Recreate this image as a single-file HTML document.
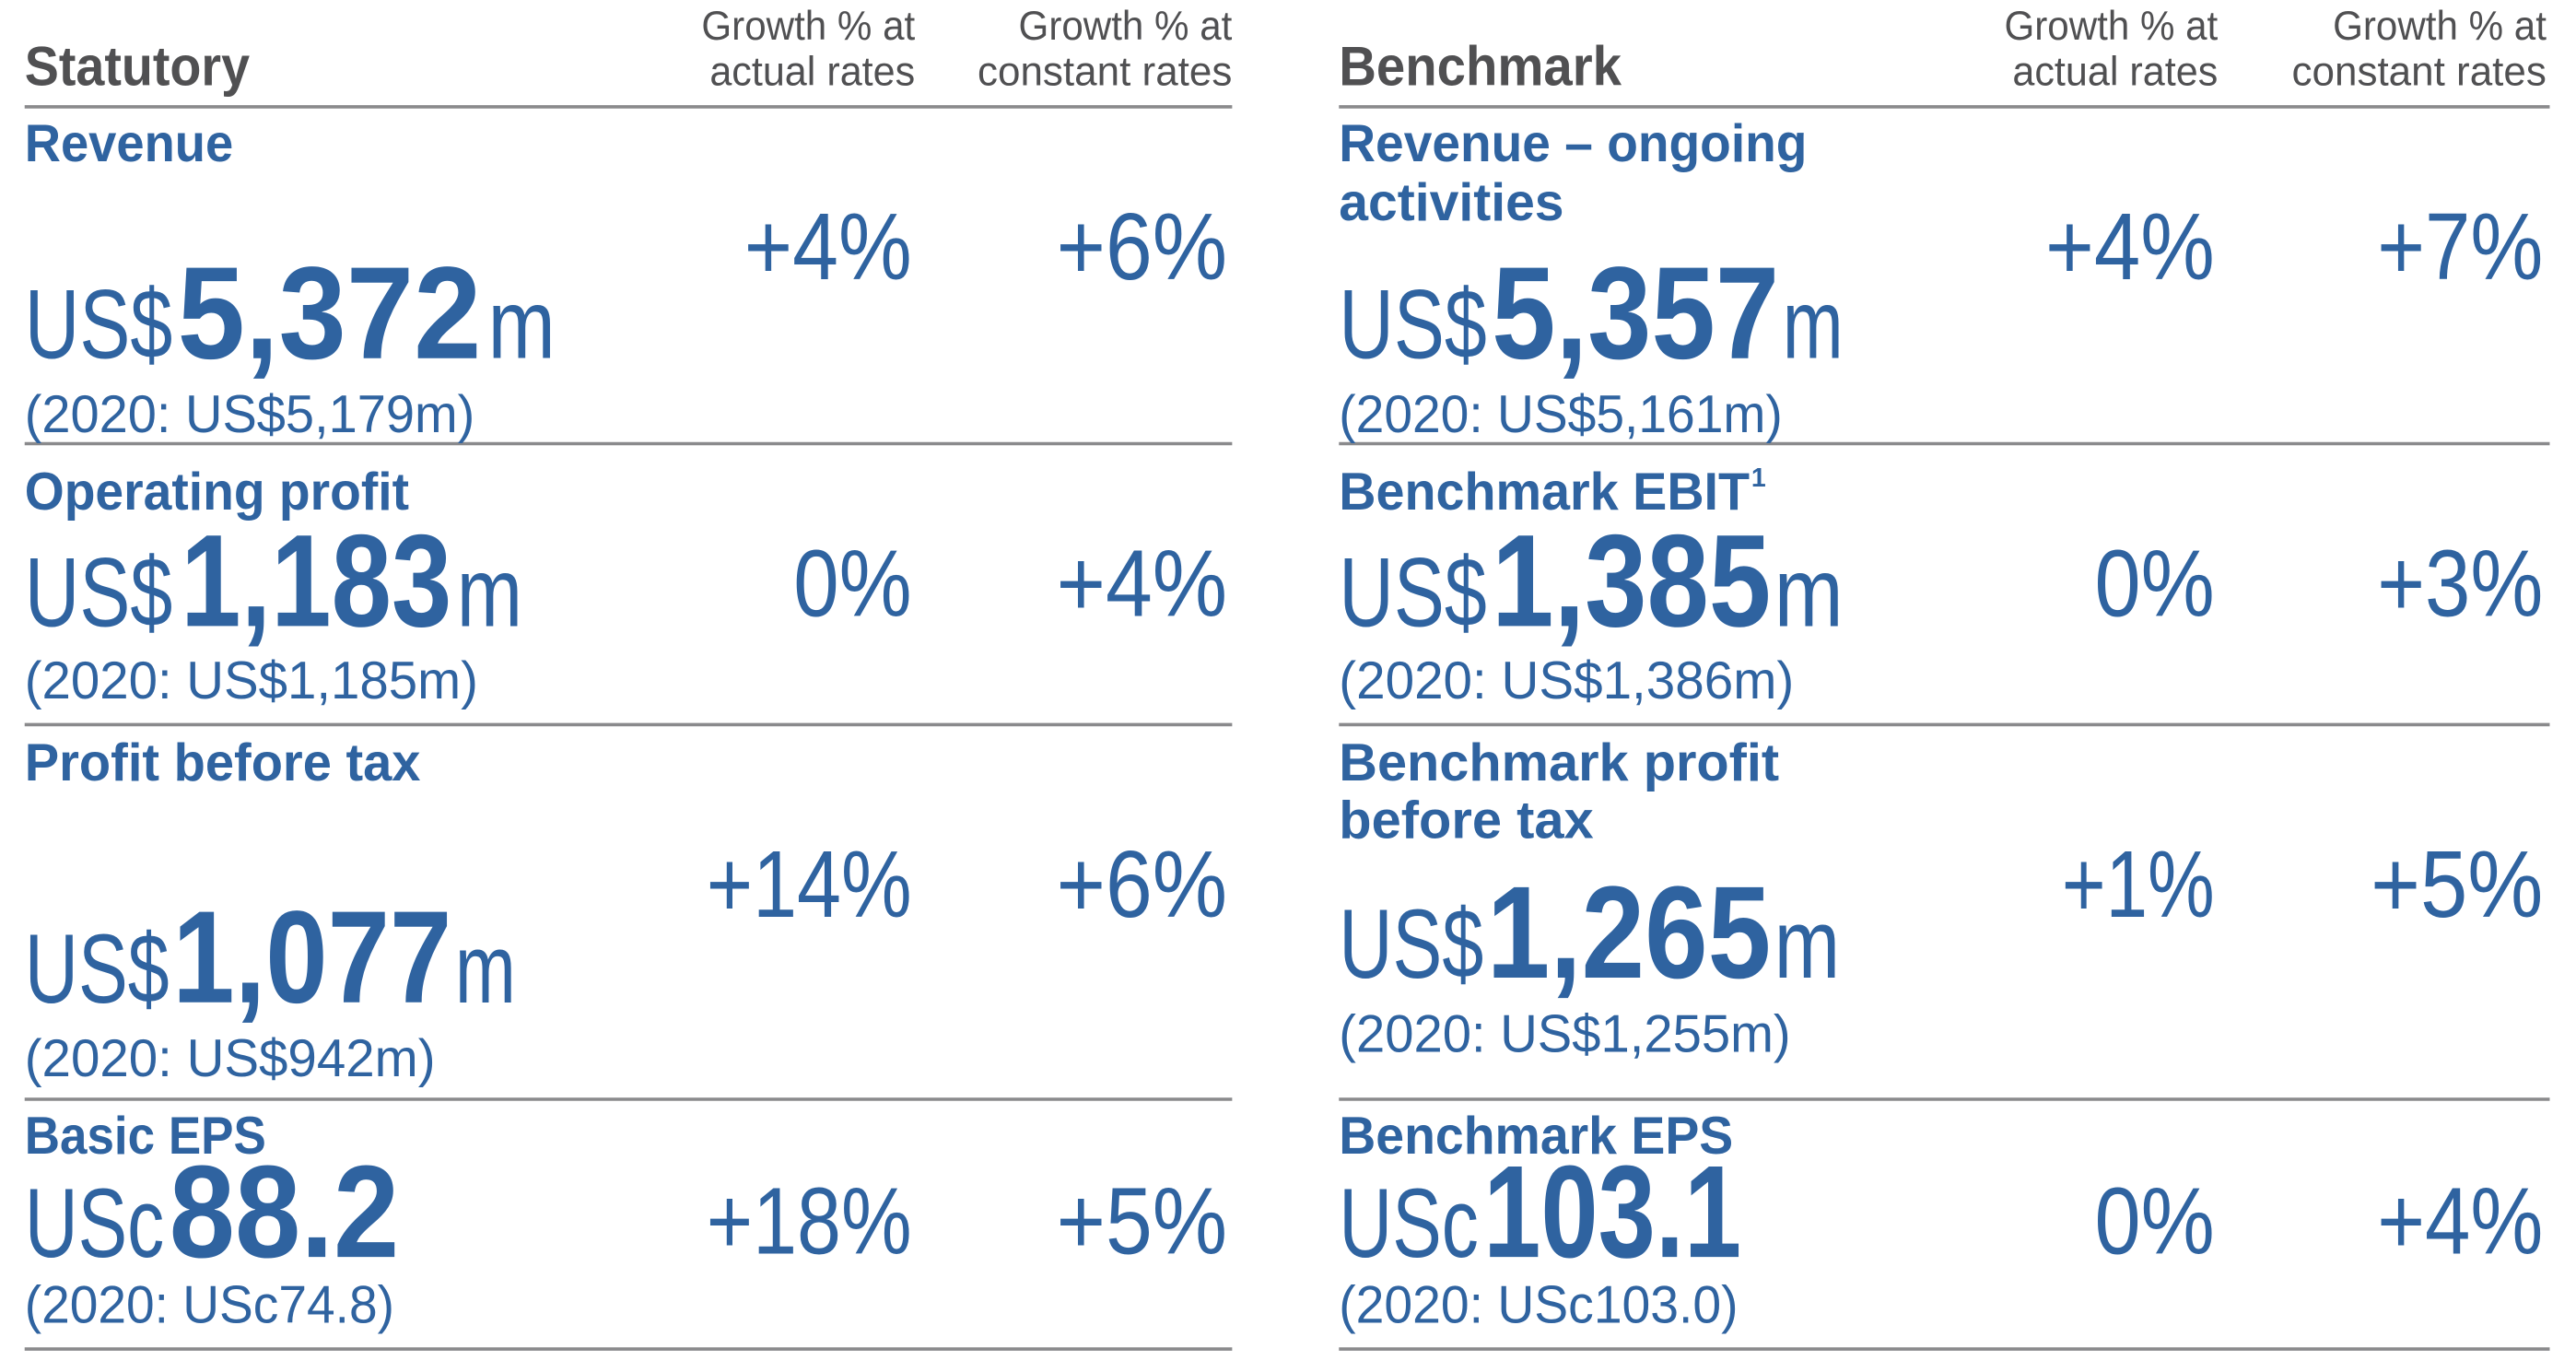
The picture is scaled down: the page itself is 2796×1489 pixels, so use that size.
<!DOCTYPE html>
<html><head><meta charset="utf-8"><style>
html,body{margin:0;padding:0;background:#fff;width:2796px;height:1489px;overflow:hidden}
svg{display:block}
text{font-family:"Liberation Sans Narrow","Liberation Sans",sans-serif;fill:#2f63a0}
.h{fill:#505052;font-weight:bold;font-size:34px}
.g{fill:#505052;font-size:25px}
.l{font-weight:bold;font-size:32px}
.u{font-size:60px}
.b{font-weight:bold;font-size:80px}
.p{font-size:32px}
.r{font-size:58px}
line{stroke:#8a8a8c;stroke-width:2}
</style></head><body>
<svg width="2796" height="1489" viewBox="0 0 1568 835" preserveAspectRatio="none">
<line x1="15" y1="65" x2="750" y2="65"/><line x1="15" y1="270" x2="750" y2="270"/><line x1="15" y1="441" x2="750" y2="441"/><line x1="15" y1="669" x2="750" y2="669"/><line x1="15" y1="821" x2="750" y2="821"/>
<line x1="815" y1="65" x2="1552" y2="65"/><line x1="815" y1="270" x2="1552" y2="270"/><line x1="815" y1="441" x2="1552" y2="441"/><line x1="815" y1="669" x2="1552" y2="669"/><line x1="815" y1="821" x2="1552" y2="821"/>

<text class="h" x="15" y="52" textLength="137" lengthAdjust="spacingAndGlyphs">Statutory</text>
<text class="g" x="427" y="24" textLength="130" lengthAdjust="spacingAndGlyphs">Growth % at</text>
<text class="g" x="432" y="52" textLength="125" lengthAdjust="spacingAndGlyphs">actual rates</text>
<text class="g" x="620" y="24" textLength="130" lengthAdjust="spacingAndGlyphs">Growth % at</text>
<text class="g" x="595" y="52" textLength="155" lengthAdjust="spacingAndGlyphs">constant rates</text>

<text class="h" x="815" y="52" textLength="172" lengthAdjust="spacingAndGlyphs">Benchmark</text>
<text class="g" x="1220" y="24" textLength="130" lengthAdjust="spacingAndGlyphs">Growth % at</text>
<text class="g" x="1225" y="52" textLength="125" lengthAdjust="spacingAndGlyphs">actual rates</text>
<text class="g" x="1420" y="24" textLength="130" lengthAdjust="spacingAndGlyphs">Growth % at</text>
<text class="g" x="1395" y="52" textLength="155" lengthAdjust="spacingAndGlyphs">constant rates</text>

<!-- Left: Revenue -->
<text class="l" x="15" y="98" textLength="127" lengthAdjust="spacingAndGlyphs">Revenue</text>
<text class="u" x="15" y="218" textLength="90" lengthAdjust="spacingAndGlyphs">US$</text>
<text class="b" x="108" y="218" textLength="185" lengthAdjust="spacingAndGlyphs">5,372</text>
<text class="u" x="297" y="218" textLength="41" lengthAdjust="spacingAndGlyphs">m</text>
<text class="p" x="15" y="263" textLength="274" lengthAdjust="spacingAndGlyphs">(2020: US$5,179m)</text>
<text class="r" x="453" y="170" textLength="102" lengthAdjust="spacingAndGlyphs">+4%</text>
<text class="r" x="643" y="170" textLength="104" lengthAdjust="spacingAndGlyphs">+6%</text>

<!-- Operating profit -->
<text class="l" x="15" y="310" textLength="234" lengthAdjust="spacingAndGlyphs">Operating profit</text>
<text class="u" x="15" y="381" textLength="90" lengthAdjust="spacingAndGlyphs">US$</text>
<text class="b" x="110" y="381" textLength="165" lengthAdjust="spacingAndGlyphs">1,183</text>
<text class="u" x="278" y="381" textLength="40" lengthAdjust="spacingAndGlyphs">m</text>
<text class="p" x="15" y="425" textLength="276" lengthAdjust="spacingAndGlyphs">(2020: US$1,185m)</text>
<text class="r" x="483" y="375" textLength="72" lengthAdjust="spacingAndGlyphs">0%</text>
<text class="r" x="643" y="375" textLength="104" lengthAdjust="spacingAndGlyphs">+4%</text>

<!-- PBT -->
<text class="l" x="15" y="475" textLength="241" lengthAdjust="spacingAndGlyphs">Profit before tax</text>
<text class="u" x="15" y="610" textLength="88" lengthAdjust="spacingAndGlyphs">US$</text>
<text class="b" x="105" y="610" textLength="170" lengthAdjust="spacingAndGlyphs">1,077</text>
<text class="u" x="277" y="610" textLength="37" lengthAdjust="spacingAndGlyphs">m</text>
<text class="p" x="15" y="655" textLength="250" lengthAdjust="spacingAndGlyphs">(2020: US$942m)</text>
<text class="r" x="430" y="558" textLength="125" lengthAdjust="spacingAndGlyphs">+14%</text>
<text class="r" x="643" y="558" textLength="104" lengthAdjust="spacingAndGlyphs">+6%</text>

<!-- Basic EPS -->
<text class="l" x="15" y="702" textLength="147" lengthAdjust="spacingAndGlyphs">Basic EPS</text>
<text class="u" x="15" y="765" textLength="85" lengthAdjust="spacingAndGlyphs">USc</text>
<text class="b" x="103" y="765" textLength="140" lengthAdjust="spacingAndGlyphs">88.2</text>
<text class="p" x="15" y="805" textLength="225" lengthAdjust="spacingAndGlyphs">(2020: USc74.8)</text>
<text class="r" x="430" y="763" textLength="125" lengthAdjust="spacingAndGlyphs">+18%</text>
<text class="r" x="643" y="763" textLength="104" lengthAdjust="spacingAndGlyphs">+5%</text>

<!-- Right: Revenue ongoing -->
<text class="l" x="815" y="98" textLength="285" lengthAdjust="spacingAndGlyphs">Revenue – ongoing</text>
<text class="l" x="815" y="134" textLength="137" lengthAdjust="spacingAndGlyphs">activities</text>
<text class="u" x="815" y="218" textLength="90" lengthAdjust="spacingAndGlyphs">US$</text>
<text class="b" x="908" y="218" textLength="175" lengthAdjust="spacingAndGlyphs">5,357</text>
<text class="u" x="1085" y="218" textLength="37" lengthAdjust="spacingAndGlyphs">m</text>
<text class="p" x="815" y="263" textLength="270" lengthAdjust="spacingAndGlyphs">(2020: US$5,161m)</text>
<text class="r" x="1245" y="170" textLength="103" lengthAdjust="spacingAndGlyphs">+4%</text>
<text class="r" x="1447" y="170" textLength="101" lengthAdjust="spacingAndGlyphs">+7%</text>

<!-- Benchmark EBIT -->
<text class="l" x="815" y="310" textLength="250" lengthAdjust="spacingAndGlyphs">Benchmark EBIT</text>
<text x="1066" y="296" style="font-weight:bold;font-size:16px">1</text>
<text class="u" x="815" y="381" textLength="90" lengthAdjust="spacingAndGlyphs">US$</text>
<text class="b" x="908" y="381" textLength="170" lengthAdjust="spacingAndGlyphs">1,385</text>
<text class="u" x="1080" y="381" textLength="42" lengthAdjust="spacingAndGlyphs">m</text>
<text class="p" x="815" y="425" textLength="277" lengthAdjust="spacingAndGlyphs">(2020: US$1,386m)</text>
<text class="r" x="1275" y="375" textLength="73" lengthAdjust="spacingAndGlyphs">0%</text>
<text class="r" x="1447" y="375" textLength="101" lengthAdjust="spacingAndGlyphs">+3%</text>

<!-- Benchmark PBT -->
<text class="l" x="815" y="475" textLength="268" lengthAdjust="spacingAndGlyphs">Benchmark profit</text>
<text class="l" x="815" y="510" textLength="155" lengthAdjust="spacingAndGlyphs">before tax</text>
<text class="u" x="815" y="595" textLength="88" lengthAdjust="spacingAndGlyphs">US$</text>
<text class="b" x="905" y="595" textLength="173" lengthAdjust="spacingAndGlyphs">1,265</text>
<text class="u" x="1080" y="595" textLength="40" lengthAdjust="spacingAndGlyphs">m</text>
<text class="p" x="815" y="640" textLength="275" lengthAdjust="spacingAndGlyphs">(2020: US$1,255m)</text>
<text class="r" x="1255" y="558" textLength="93" lengthAdjust="spacingAndGlyphs">+1%</text>
<text class="r" x="1443" y="558" textLength="105" lengthAdjust="spacingAndGlyphs">+5%</text>

<!-- Benchmark EPS -->
<text class="l" x="815" y="702" textLength="240" lengthAdjust="spacingAndGlyphs">Benchmark EPS</text>
<text class="u" x="815" y="765" textLength="85" lengthAdjust="spacingAndGlyphs">USc</text>
<text class="b" x="903" y="765" textLength="157" lengthAdjust="spacingAndGlyphs">103.1</text>
<text class="p" x="815" y="805" textLength="243" lengthAdjust="spacingAndGlyphs">(2020: USc103.0)</text>
<text class="r" x="1275" y="763" textLength="73" lengthAdjust="spacingAndGlyphs">0%</text>
<text class="r" x="1447" y="763" textLength="101" lengthAdjust="spacingAndGlyphs">+4%</text>
</svg>
</body></html>
